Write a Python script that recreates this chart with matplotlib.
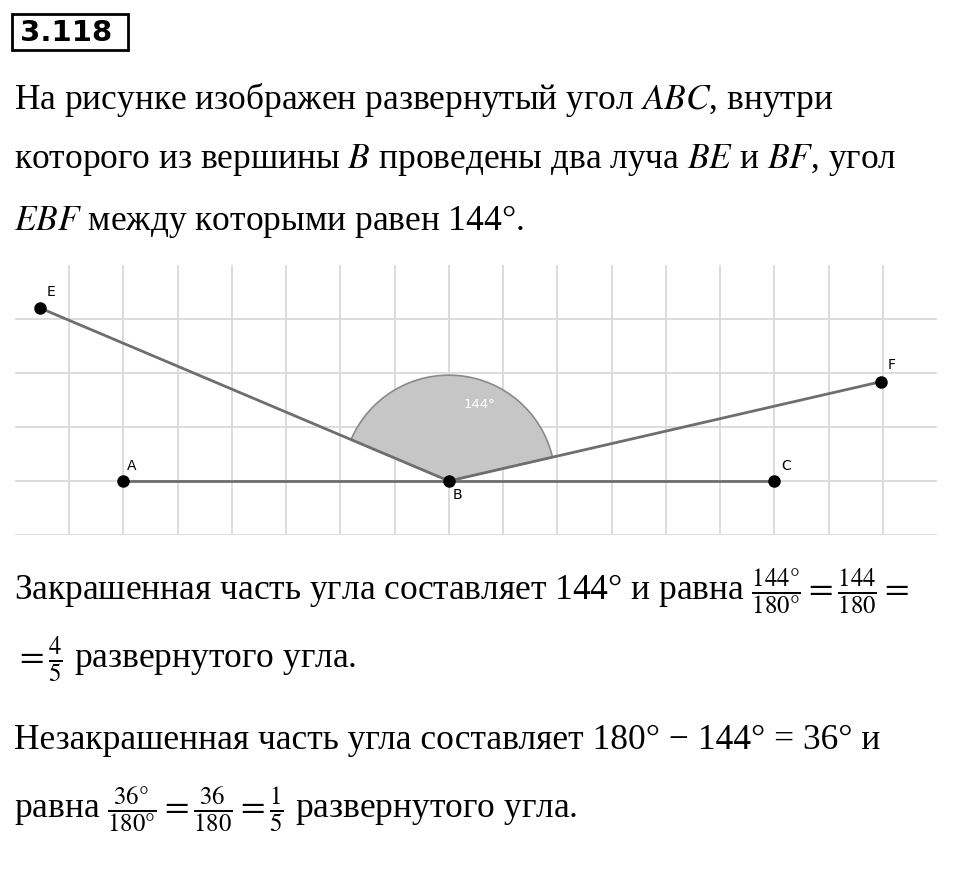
import matplotlib
matplotlib.use("Agg")
import matplotlib.pyplot as plt
from matplotlib.patches import Wedge, Rectangle
import numpy as np

points = {"A": (-6, 0), "B": (0, 0), "C": (6, 0), "E": (-7.53, 3.2), "F": (7.97, 1.84)}
angle_start, angle_end = 13.0, 157.0
angle_label = "144°"

plt.rcParams['mathtext.fontset'] = 'stix'
W, H = 960, 872
fig = plt.figure(figsize=(W/100, H/100), dpi=100)

def ft(x, y, s, **kw):
    fig.text(x/W, 1-y/H, s, family=['Liberation Serif', 'DejaVu Serif'], fontsize=25.5, va='center', ha='left', **kw)

# title box
fig.text(20/W, 1-33/H, "3.118", family='DejaVu Sans', fontsize=21, fontweight='bold', va='center', ha='left')
fig.add_artist(Rectangle((12/W, 1-50/H), 116/W, 36/H, transform=fig.transFigure, fill=False, lw=2, ec='black'))

ft(14, 100, "На рисунке изображен развернутый угол $ABC$, внутри")
ft(14, 160, "которого из вершины $B$ проведены два луча $BE$ и $BF$, угол")
ft(14, 222, "$EBF$ между которыми равен 144°.")
ft(14, 592, r"Закрашенная часть угла составляет 144° и равна $\frac{144°}{180°}=\frac{144}{180}=$")
ft(14, 660, r"$=\frac{4}{5}$ развернутого угла.")
ft(14, 740, "Незакрашенная часть угла составляет 180° − 144° = 36° и")
ft(14, 810, r"равна $\frac{36°}{180°}=\frac{36}{180}=\frac{1}{5}$ развернутого угла.")

# diagram
x0, x1, y0, y1 = 15, 937, 265, 535
ax = fig.add_axes([x0/W, 1-y1/H, (x1-x0)/W, (y1-y0)/H])
ax.set_xlim(-8.0, 9.0)
ax.set_ylim(-1.0, 4.0)
ax.axis('off')
for gx in range(-7, 9):
    ax.plot([gx, gx], [-1, 4], color='#d9d9d9', lw=1.3, zorder=0)
for gy in range(-1, 4):
    ax.plot([-8, 9], [gy, gy], color='#d9d9d9', lw=1.3, zorder=0)

ax.add_patch(Wedge((0, 0), 1.96, angle_start, angle_end, fc='#c6c6c6', ec='#8a8a8a', lw=1.2, zorder=1))
ax.text(0.57, 1.42, angle_label, fontsize=9.5, color='white', ha='center', va='center', family='DejaVu Sans', zorder=3)

B = points["B"]
for k in ["A", "C", "E", "F"]:
    p = points[k]
    ax.plot([B[0], p[0]], [B[1], p[1]], color='#6e6e6e', lw=2, zorder=2)
offs = {"A": (0.15, 0.28), "B": (0.15, -0.25), "C": (0.22, 0.28), "E": (0.2, 0.3), "F": (0.2, 0.3)}
for k, p in points.items():
    ax.plot(*p, 'o', color='black', ms=8, zorder=4)
    ax.text(p[0]+offs[k][0], p[1]+offs[k][1], k, fontsize=10, family='DejaVu Sans', ha='center', va='center')

fig.savefig("out.png", dpi=100)
